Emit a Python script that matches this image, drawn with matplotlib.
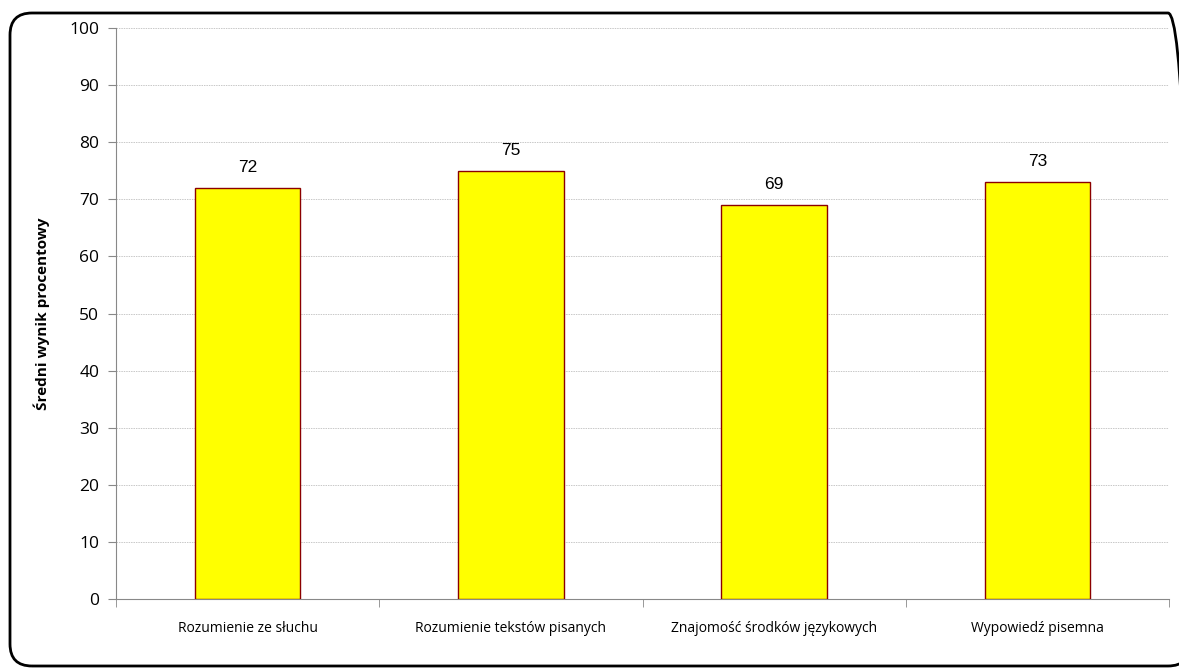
import matplotlib
matplotlib.use("Agg")
import matplotlib.pyplot as plt
from matplotlib.patches import FancyBboxPatch
from matplotlib.transforms import IdentityTransform
import numpy as np

categories = ["Rozumienie ze słuchu", "Rozumienie tekstów pisanych",
              "Znajomość środków językowych", "Wypowiedź pisemna"]
values = [72, 75, 69, 73]
yticks = [0, 10, 20, 30, 40, 50, 60, 70, 80, 90, 100]

fig = plt.figure(figsize=(11.79, 6.70), dpi=100)
ax = fig.add_axes([116/1179, 1-599/670, (1169-116)/1179, (599-28)/670])

x = np.arange(len(categories))
ax.bar(x, values, width=0.4, color="#FFFF00", edgecolor="#8B0000", linewidth=1.0, zorder=3)
for xi, v in zip(x, values):
    ax.text(xi, v + 2.3, f"{v}", ha="center", va="bottom", fontsize=12.5,
            family="Liberation Sans", color="#000000")

ax.set_xlim(-0.5, len(categories) - 0.5)
ax.set_ylim(0, 100)
ax.set_yticks(yticks)
ax.set_yticklabels([str(t) for t in yticks], fontsize=12.5, family="Open Sans")
ax.set_xticks(x)
ax.set_xticklabels(categories, fontsize=10, family="Open Sans")
ax.tick_params(axis="x", length=0, pad=16)
ax.set_xticks(np.arange(-0.5, len(categories)), minor=True)
ax.tick_params(axis="x", which="minor", length=6, color="#888888", direction="out")
ax.tick_params(axis="y", length=6, color="#888888", direction="out", pad=6)

ax.yaxis.grid(True, color="#C8C8C8", linestyle=(0, (1.5, 1)), linewidth=0.7, zorder=0)
ax.set_axisbelow(True)
for s in ["top", "right"]:
    ax.spines[s].set_visible(False)
for s in ["left", "bottom"]:
    ax.spines[s].set_color("#888888")

ax.set_ylabel("Średni wynik procentowy", fontsize=11, fontweight="bold",
              family="Open Sans", labelpad=14)

frame = FancyBboxPatch((10, 4), 1190 - 10, 657 - 4,
                       boxstyle="round,pad=0,rounding_size=22",
                       transform=IdentityTransform(), fill=False, edgecolor="black",
                       linewidth=2)
fig.add_artist(frame)

fig.savefig("out.png", dpi=100)
